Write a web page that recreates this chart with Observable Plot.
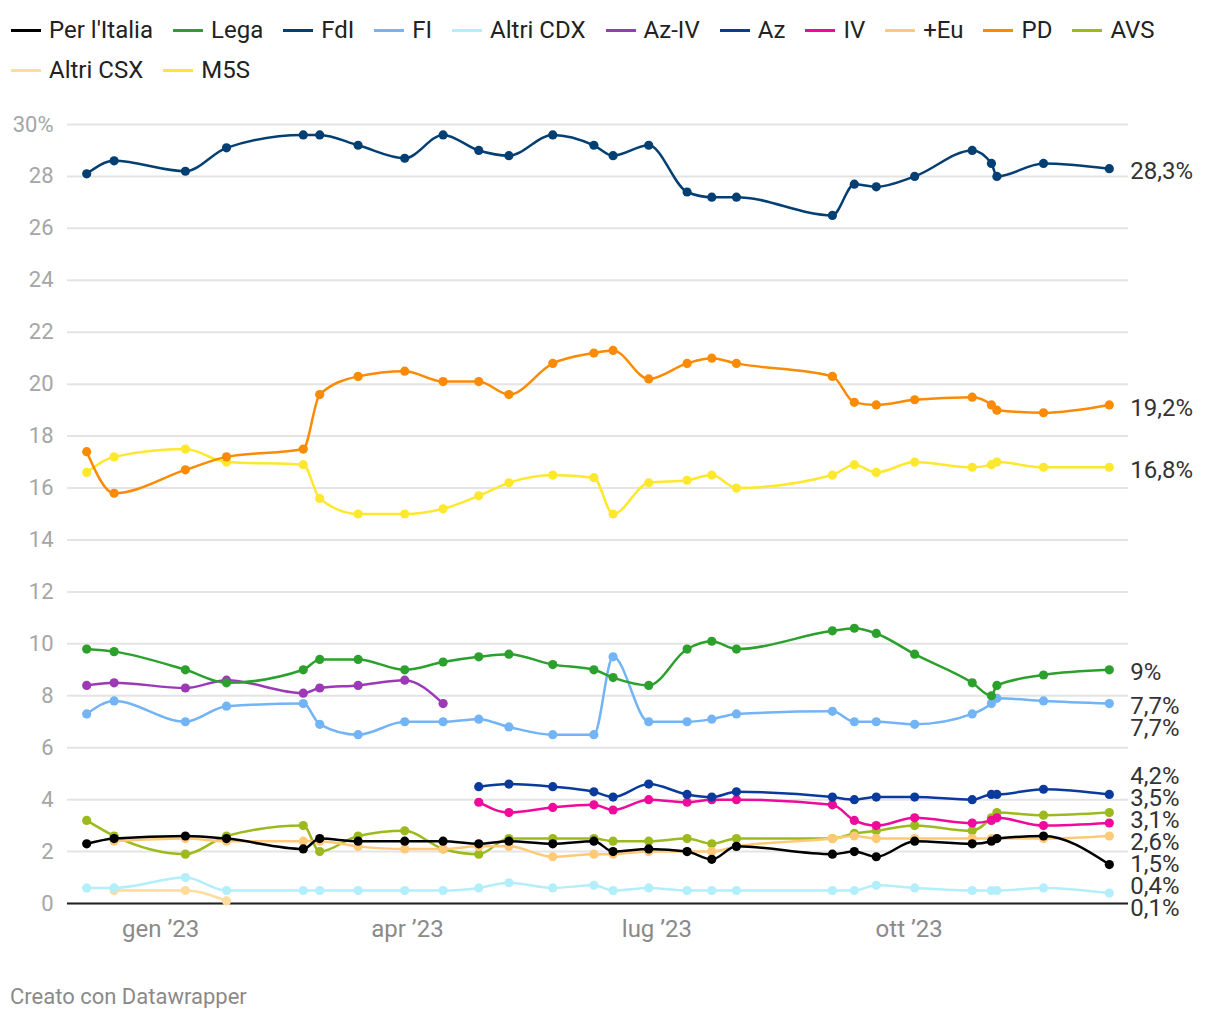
<!DOCTYPE html>
<html>
<head>
<meta charset="utf-8">
<script src="https://cdn.jsdelivr.net/npm/d3@7"></script>
<script src="https://cdn.jsdelivr.net/npm/@observablehq/plot@0.6"></script>
<style>
  html, body { margin: 0; padding: 0; background: #fff; }
  body { width: 1220px; font-family: Roboto, "Noto Sans", sans-serif; }
  #legend { box-sizing: border-box; height: 100px; padding: 17px 10px 0 11px; display: flex; flex-wrap: wrap; column-gap: 20px; row-gap: 14px; align-content: flex-start; }
  .item { display: flex; align-items: center; height: 26px; font-size: 24px; color: #222; white-space: nowrap; }
  .sw { width: 30px; height: 3px; margin-right: 8px; }
  #footer { margin: 26px 0 0 10px; font-size: 22px; color: #8a8a8a; line-height: 22px; }
</style>
</head>
<body>
<div id="legend"></div>
<div id="chart"></div>
<div id="footer">Creato con Datawrapper</div>
<script>
// ---- data ----
const dates = ["2022-12-05","2022-12-15","2023-01-10","2023-01-25","2023-02-22","2023-02-28","2023-03-14","2023-03-31","2023-04-14","2023-04-27","2023-05-08","2023-05-24","2023-06-08","2023-06-15","2023-06-28","2023-07-12","2023-07-21","2023-07-30","2023-09-03","2023-09-11","2023-09-19","2023-10-03","2023-10-24","2023-10-31","2023-11-02","2023-11-19","2023-12-13"];

const parties = ["Per l'Italia", "Lega", "FdI", "FI", "Altri CDX", "Az-IV", "Az", "IV", "+Eu", "PD", "AVS", "Altri CSX", "M5S"];

const perItalia = [2.3, 2.5, 2.6, 2.5, 2.1, 2.5, 2.4, 2.4, 2.4, 2.3, 2.4, 2.3, 2.4, 2.0, 2.1, 2.0, 1.7, 2.2, 1.9, 2.0, 1.8, 2.4, 2.3, 2.4, 2.5, 2.6, 1.5];
const lega = [9.8, 9.7, 9.0, 8.5, 9.0, 9.4, 9.4, 9.0, 9.3, 9.5, 9.6, 9.2, 9.0, 8.7, 8.4, 9.8, 10.1, 9.8, 10.5, 10.6, 10.4, 9.6, 8.5, 8.0, 8.4, 8.8, 9.0];
const fdi = [28.1, 28.6, 28.2, 29.1, 29.6, 29.6, 29.2, 28.7, 29.6, 29.0, 28.8, 29.6, 29.2, 28.8, 29.2, 27.4, 27.2, 27.2, 26.5, 27.7, 27.6, 28.0, 29.0, 28.5, 28.0, 28.5, 28.3];
const fi = [7.3, 7.8, 7.0, 7.6, 7.7, 6.9, 6.5, 7.0, 7.0, 7.1, 6.8, 6.5, 6.5, 9.5, 7.0, 7.0, 7.1, 7.3, 7.4, 7.0, 7.0, 6.9, 7.3, 7.7, 7.9, 7.8, 7.7];
const altriCdx = [0.6, 0.6, 1.0, 0.5, 0.5, 0.5, 0.5, 0.5, 0.5, 0.6, 0.8, 0.6, 0.7, 0.5, 0.6, 0.5, 0.5, 0.5, 0.5, 0.5, 0.7, 0.6, 0.5, 0.5, 0.5, 0.6, 0.4];
const azIv = [8.4, 8.5, 8.3, 8.6, 8.1, 8.3, 8.4, 8.6, 7.7, null, null, null, null, null, null, null, null, null, null, null, null, null, null, null, null, null, null];
const az = [null, null, null, null, null, null, null, null, null, 4.5, 4.6, 4.5, 4.3, 4.1, 4.6, 4.2, 4.1, 4.3, 4.1, 4.0, 4.1, 4.1, 4.0, 4.2, 4.2, 4.4, 4.2];
const iv = [null, null, null, null, null, null, null, null, null, 3.9, 3.5, 3.7, 3.8, 3.6, 4.0, 3.9, 4.0, 4.0, 3.8, 3.2, 3.0, 3.3, 3.1, 3.2, 3.3, 3.0, 3.1];
const piuEu = [null, 2.4, 2.5, 2.4, 2.4, 2.4, 2.2, 2.1, 2.1, 2.2, 2.2, 1.8, 1.9, 1.9, 2.0, 2.0, 2.0, 2.2, 2.5, 2.6, 2.5, 2.5, 2.5, 2.5, 2.5, 2.5, 2.6];
const pd = [17.4, 15.8, 16.7, 17.2, 17.5, 19.6, 20.3, 20.5, 20.1, 20.1, 19.6, 20.8, 21.2, 21.3, 20.2, 20.8, 21.0, 20.8, 20.3, 19.3, 19.2, 19.4, 19.5, 19.2, 19.0, 18.9, 19.2];
const avs = [3.2, 2.6, 1.9, 2.6, 3.0, 2.0, 2.6, 2.8, 2.1, 1.9, 2.5, 2.5, 2.5, 2.4, 2.4, 2.5, 2.3, 2.5, 2.5, 2.7, 2.8, 3.0, 2.8, 3.3, 3.5, 3.4, 3.5];
const altriCsx = [null, 0.5, 0.5, 0.1, null, null, null, null, null, null, null, null, null, null, null, null, null, null, null, null, null, null, null, null, null, null, null];
const m5s = [16.6, 17.2, 17.5, 17.0, 16.9, 15.6, 15.0, 15.0, 15.2, 15.7, 16.2, 16.5, 16.4, 15.0, 16.2, 16.3, 16.5, 16.0, 16.5, 16.9, 16.6, 17.0, 16.8, 16.9, 17.0, 16.8, 16.8];

const xTickDates = ["2023-01-01", "2023-04-01", "2023-07-01", "2023-10-01"];
const xTickLabels = ["gen ’23", "apr ’23", "lug ’23", "ott ’23"];
const yTicks = [0, 2, 4, 6, 8, 10, 12, 14, 16, 18, 20, 22, 24, 26, 28, 30];

// ---- styles ----
const partyColors = ["#000000", "#2ca02c", "#033f73", "#72b4f5", "#b3eefb", "#9b39b6", "#0a3a9c", "#ee0a9b", "#ffc978", "#fb8a04", "#9cba1d", "#fddc9e", "#fde82e"];

const seriesValues = [perItalia, lega, fdi, fi, altriCdx, azIv, az, iv, piuEu, pd, avs, altriCsx, m5s];

// tidy rows
const series = parties.map((name, k) => ({
  name,
  color: partyColors[k],
  rows: dates.map((d, i) => ({ date: new Date(d), value: seriesValues[k][i], party: name }))
             .filter(r => r.value != null)
}));

// legend
const legend = document.getElementById("legend");
series.forEach(s => {
  const it = document.createElement("div");
  it.className = "item";
  const sw = document.createElement("span");
  sw.className = "sw";
  sw.style.background = s.color;
  it.appendChild(sw);
  it.appendChild(document.createTextNode(s.name));
  legend.appendChild(it);
});

// end labels with a simple dodge in data units
const fmt = v => (Number.isInteger(v) ? String(v) : v.toFixed(1).replace(".", ",")) + "%";
const ends = series.map(s => {
  const last = s.rows[s.rows.length - 1];
  return { party: s.name, value: last.value, label: fmt(last.value) };
});
(function dodge(items, gap, floor) {
  const sorted = items.slice().sort((a, b) => b.value - a.value);
  let prev = Infinity;
  sorted.forEach(it => { it.pos = Math.min(it.value, prev - gap); prev = it.pos; });
  let next = -Infinity;
  for (let i = sorted.length - 1; i >= 0; i--) {
    const it = sorted[i];
    if (i === sorted.length - 1) it.pos = Math.max(it.pos, floor);
    else it.pos = Math.max(it.pos, next + gap);
    next = it.pos;
  }
})(ends, 0.847, -0.08);
const lastDate = new Date(dates[dates.length - 1]);
ends.forEach(e => e.date = lastDate);

const tickLabelMap = new Map(xTickDates.map((d, i) => [new Date(d).getTime(), xTickLabels[i]]));

const marks = [
  Plot.gridY(yTicks, { stroke: "#e4e4e4", strokeOpacity: 1, strokeWidth: 2 }),
  Plot.axisY(yTicks, {
    tickSize: 0, tickPadding: 14, fontSize: 22, fill: "#a6a6a6",
    tickFormat: d => d === 30 ? "30%" : String(d)
  }),
  Plot.axisX(xTickDates.map(d => new Date(d)), {
    tickSize: 0, tickPadding: 16, fontSize: 24, fill: "#8a8a8a",
    tickFormat: d => tickLabelMap.get(d.getTime())
  }),
  Plot.ruleY([0], { stroke: "#222", strokeWidth: 2 })
];

series.slice().reverse().forEach(s => {
  marks.push(Plot.line(s.rows, { x: "date", y: "value", stroke: s.color, strokeWidth: 2.5, curve: "monotone-x" }));
  marks.push(Plot.dot(s.rows, { x: "date", y: "value", fill: s.color, r: 4.6 }));
});

marks.push(Plot.text(ends, {
  x: "date", y: "pos", text: "label", dx: 21, dy: 3,
  textAnchor: "start", fill: "#333", fontSize: 24
}));

const chart = Plot.plot({
  width: 1220,
  height: 860,
  marginTop: 24,
  marginBottom: 57,
  marginLeft: 67,
  marginRight: 92,
  style: { fontFamily: "Roboto, sans-serif", fontSize: "22px", background: "#fff", overflow: "visible" },
  x: { type: "time", domain: [new Date("2022-11-28"), new Date("2023-12-20")] },
  y: { domain: [0, 30] },
  marks
});
document.getElementById("chart").appendChild(chart);
</script>
</body>
</html>
